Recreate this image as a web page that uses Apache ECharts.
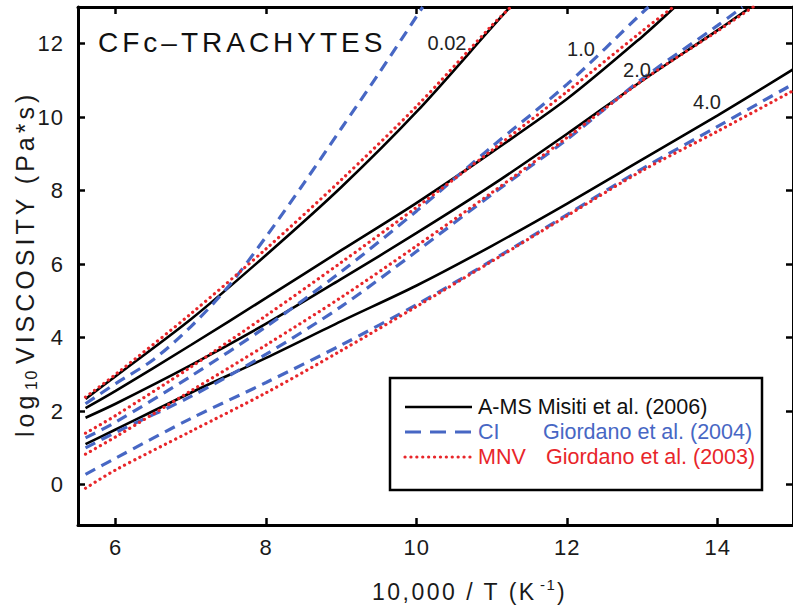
<!DOCTYPE html>
<html>
<head>
<meta charset="utf-8">
<script src="https://cdn.jsdelivr.net/npm/echarts@6/dist/echarts.min.js"></script>
<style>
  html, body { margin: 0; padding: 0; background: #fff; }
  #chart { width: 793px; height: 609px; }
  /* letter spacing per text role (roles use distinct font sizes) */
  #chart text[style*="28px"] { letter-spacing: 4px; }
  #chart text[style*="25px"] { letter-spacing: 4px; }
  #chart text[style*="23px"] { letter-spacing: 2.5px; }
  #chart text[style*="22px"] { letter-spacing: 1px; }
  #chart text[style*="16px"] { letter-spacing: 1.5px; }
  #chart text[style*="15px"] { letter-spacing: 1.5px; }
</style>
</head>
<body>
<div id="chart"></div>
<script>
// Tick positions
const X_TICKS = [6, 8, 10, 12, 14];
const Y_TICKS = [0, 2, 4, 6, 8, 10, 12];

// Water content labels (wt%)
const WATER_LABELS = ['0.02', '1.0', '2.0', '4.0'];

// A-MS, Misiti et al. (2006): log10 viscosity vs 10,000/T
const AMS_002_X = [5.6, 6, 7, 8, 9, 10, 11, 11.24];
const AMS_002_Y = [2.33, 2.95, 4.5, 6.25, 8.1, 10.15, 12.45, 13.0];
const AMS_10_X = [5.6, 6, 7, 8, 9, 10, 11, 12, 13, 13.43];
const AMS_10_Y = [2.08, 2.55, 3.8, 5.08, 6.38, 7.67, 9.05, 10.5, 12.2, 13.0];
const AMS_20_X = [5.6, 6, 7, 8, 9, 10, 11, 12, 13, 14, 14.44];
const AMS_20_Y = [1.82, 2.2, 3.25, 4.38, 5.6, 6.85, 8.15, 9.55, 11.0, 12.37, 13.0];
const AMS_40_X = [5.6, 6, 7, 8, 9, 10, 11, 12, 13, 14, 15];
const AMS_40_Y = [1.1, 1.5, 2.5, 3.45, 4.45, 5.42, 6.5, 7.65, 8.85, 10.05, 11.3];

// CI, Giordano et al. (2004)
const CI_002_X = [5.6, 6, 6.5, 7, 7.5, 8, 8.5, 9, 9.5, 10, 10.08];
const CI_002_Y = [2.2, 2.75, 3.4, 4.3, 5.4, 6.75, 8.2, 9.7, 11.2, 12.75, 13.0];
const CI_10_X = [5.6, 6, 7, 8, 9, 10, 11, 12, 13, 13.08];
const CI_10_Y = [1.27, 1.7, 2.95, 4.3, 5.8, 7.45, 9.2, 10.9, 12.85, 13.0];
const CI_20_X = [5.6, 6, 7, 8, 9, 10, 11, 12, 13, 14, 14.33];
const CI_20_Y = [1.0, 1.42, 2.4, 3.55, 4.85, 6.35, 7.9, 9.4, 11.05, 12.5, 13.0];
const CI_40_X = [5.6, 6, 7, 8, 9, 10, 11, 12, 13, 14, 15];
const CI_40_Y = [0.28, 0.72, 1.8, 2.78, 3.8, 4.9, 6.1, 7.35, 8.6, 9.75, 10.9];

// MNV, Giordano et al. (2003)
const MNV_002_X = [5.6, 6, 7, 8, 9, 10, 11, 11.25];
const MNV_002_Y = [2.38, 3.0, 4.65, 6.42, 8.3, 10.3, 12.5, 13.0];
const MNV_10_X = [5.6, 6, 7, 8, 9, 10, 11, 12, 13, 13.41];
const MNV_10_Y = [1.40, 1.88, 3.2, 4.6, 6.05, 7.55, 9.1, 10.7, 12.35, 13.0];
const MNV_20_X = [5.6, 6, 7, 8, 9, 10, 11, 12, 13, 14, 14.47];
const MNV_20_Y = [0.83, 1.3, 2.55, 3.8, 5.1, 6.5, 7.95, 9.45, 11.0, 12.35, 13.0];
const MNV_40_X = [5.6, 6, 7, 8, 9, 10, 11, 12, 13, 14, 15];
const MNV_40_Y = [-0.1, 0.4, 1.45, 2.5, 3.65, 4.85, 6.08, 7.32, 8.55, 9.62, 10.72];

const FONT = 'Liberation Sans, Arial, Helvetica, sans-serif';
const BLACK = '#000000';
const BLUE = '#4767c4';
const RED = '#e8262a';

const pairs = (xs, ys) => xs.map((x, i) => [x, ys[i]]);

const MODELS = [
  { key: 'A-MS', style: { color: BLACK, width: 2.6, type: 'solid' },
    curves: [[AMS_002_X, AMS_002_Y], [AMS_10_X, AMS_10_Y], [AMS_20_X, AMS_20_Y], [AMS_40_X, AMS_40_Y]] },
  { key: 'CI', style: { color: BLUE, width: 3.2, type: [11, 7] },
    curves: [[CI_002_X, CI_002_Y], [CI_10_X, CI_10_Y], [CI_20_X, CI_20_Y], [CI_40_X, CI_40_Y]] },
  { key: 'MNV', style: { color: RED, width: 3.2, type: [0.1, 5.6], cap: 'round' },
    curves: [[MNV_002_X, MNV_002_Y], [MNV_10_X, MNV_10_Y], [MNV_20_X, MNV_20_Y], [MNV_40_X, MNV_40_Y]] }
];

const series = [];
MODELS.forEach(m => {
  m.curves.forEach((c, i) => {
    series.push({
      name: m.key + ' ' + WATER_LABELS[i],
      type: 'line',
      data: pairs(c[0], c[1]),
      smooth: 0.3,
      showSymbol: false,
      clip: true,
      lineStyle: Object.assign({}, m.style),
      silent: true
    });
  });
});

const axisLine = { show: true, onZero: false, lineStyle: { color: BLACK, width: 3 } };
const tick = (vals) => ({ show: true, inside: true, length: 7, customValues: vals,
  lineStyle: { color: BLACK, width: 2.5 } });
const label = (vals, margin) => ({ show: true, customValues: vals, margin: margin,
  color: '#1a1a1a', fontSize: 22, fontFamily: FONT });

const chart = echarts.init(document.getElementById('chart'), null, { renderer: 'svg' });

chart.setOption({
  animation: false,
  backgroundColor: '#fff',
  grid: { left: 78, top: 7, width: 718, height: 518 },
  xAxis: [
    { type: 'value', min: 5.5, max: 15, position: 'bottom',
      axisLine: axisLine, axisTick: tick(X_TICKS), axisLabel: label(X_TICKS, 11),
      splitLine: { show: false } },
    { type: 'value', min: 5.5, max: 15, position: 'top',
      axisLine: axisLine, axisTick: tick(X_TICKS), axisLabel: { show: false },
      splitLine: { show: false } }
  ],
  yAxis: [
    { type: 'value', min: -1.1, max: 13, position: 'left',
      axisLine: axisLine, axisTick: tick(Y_TICKS), axisLabel: label(Y_TICKS, 14),
      splitLine: { show: false } },
    { type: 'value', min: -1.1, max: 13, position: 'right',
      axisLine: axisLine, axisTick: tick(Y_TICKS), axisLabel: { show: false },
      splitLine: { show: false } }
  ],
  series: series,
  graphic: [
    // panel title
    { type: 'text', left: 98, top: 28, z: 10,
      style: { text: 'CFc\u2013TRACHYTES', fill: '#111', font: '28px ' + FONT } },
    // water-content labels on the curves
    { type: 'text', x: 447, y: 43, z: 10,
      style: { text: WATER_LABELS[0], fill: '#222', font: '20px ' + FONT, align: 'center', verticalAlign: 'middle' } },
    { type: 'text', x: 581, y: 49, z: 10,
      style: { text: WATER_LABELS[1], fill: '#222', font: '20px ' + FONT, align: 'center', verticalAlign: 'middle' } },
    { type: 'text', x: 637, y: 70, z: 10,
      style: { text: WATER_LABELS[2], fill: '#222', font: '20px ' + FONT, align: 'center', verticalAlign: 'middle' } },
    { type: 'text', x: 707, y: 102, z: 10,
      style: { text: WATER_LABELS[3], fill: '#222', font: '20px ' + FONT, align: 'center', verticalAlign: 'middle' } },
    // y axis title: log10 VISCOSITY (Pa*s)
    { type: 'text', x: 25, y: 437, rotation: Math.PI / 2, z: 10,
      style: { text: 'log', fill: '#1a1a1a', font: '25px ' + FONT, align: 'left', verticalAlign: 'middle' } },
    { type: 'text', x: 31, y: 390, rotation: Math.PI / 2, z: 10,
      style: { text: '10', fill: '#1a1a1a', font: '16px ' + FONT, align: 'left', verticalAlign: 'middle' } },
    { type: 'text', x: 25, y: 364, rotation: Math.PI / 2, z: 10,
      style: { text: 'VISCOSITY (Pa*s)', fill: '#1a1a1a', font: '25px ' + FONT, align: 'left', verticalAlign: 'middle' } },
    // x axis title: 10,000 / T (K-1)
    { type: 'text', x: 372, y: 592, z: 10,
      style: { text: '10,000 / T (K', fill: '#1a1a1a', font: '23px ' + FONT, align: 'left', verticalAlign: 'middle' } },
    { type: 'text', x: 540, y: 584, z: 10,
      style: { text: '-1', fill: '#1a1a1a', font: '15px ' + FONT, align: 'left', verticalAlign: 'middle' } },
    { type: 'text', x: 557, y: 592, z: 10,
      style: { text: ')', fill: '#1a1a1a', font: '23px ' + FONT, align: 'left', verticalAlign: 'middle' } },
    // legend
    { type: 'group', z: 20, children: [
      { type: 'rect', shape: { x: 390, y: 378, width: 372, height: 112 },
        style: { fill: '#fff', stroke: BLACK, lineWidth: 2.5 } },
      { type: 'line', shape: { x1: 405, y1: 407, x2: 472, y2: 407 },
        style: { stroke: BLACK, lineWidth: 2.6 } },
      { type: 'line', shape: { x1: 405, y1: 432, x2: 472, y2: 432 },
        style: { stroke: BLUE, lineWidth: 3.2, lineDash: [16, 9] } },
      { type: 'line', shape: { x1: 405, y1: 457, x2: 472, y2: 457 },
        style: { stroke: RED, lineWidth: 3.2, lineDash: [0.1, 5.8], lineCap: 'round' } },
      { type: 'text', x: 478, y: 407,
        style: { text: 'A-MS Misiti et al. (2006)', fill: '#111', font: '21.5px ' + FONT, verticalAlign: 'middle' } },
      { type: 'text', x: 478, y: 432,
        style: { text: 'CI', fill: BLUE, font: '21.5px ' + FONT, verticalAlign: 'middle' } },
      { type: 'text', x: 543, y: 432,
        style: { text: 'Giordano et al. (2004)', fill: BLUE, font: '21.5px ' + FONT, verticalAlign: 'middle' } },
      { type: 'text', x: 478, y: 457,
        style: { text: 'MNV', fill: RED, font: '21.5px ' + FONT, verticalAlign: 'middle' } },
      { type: 'text', x: 546, y: 457,
        style: { text: 'Giordano et al. (2003)', fill: RED, font: '21.5px ' + FONT, verticalAlign: 'middle' } }
    ] }
  ]
});
</script>
</body>
</html>
